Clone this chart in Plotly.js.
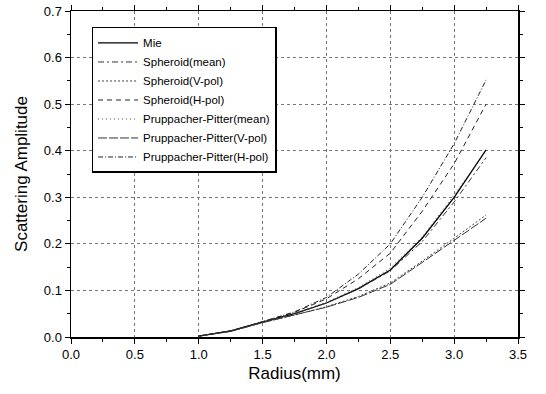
<!DOCTYPE html>
<html>
<head>
<meta charset="utf-8">
<script src="https://cdn.plot.ly/plotly-3.0.1.min.js"></script>
<style>html,body{margin:0;padding:0;background:#fff;}#chart{width:546px;height:394px;}</style>
</head>
<body>
<div id="chart"></div>
<script>
const radius = [1.0, 1.25, 1.5, 1.75, 2.0, 2.25, 2.5, 2.75, 3.0, 3.25];
const mie          = [0.002, 0.013, 0.032, 0.050, 0.073, 0.104, 0.144, 0.212, 0.300, 0.402];
const spheroidMean = [0.002, 0.013, 0.032, 0.050, 0.073, 0.103, 0.142, 0.205, 0.290, 0.385];
const spheroidV    = [0.002, 0.012, 0.031, 0.047, 0.065, 0.087, 0.116, 0.163, 0.212, 0.262];
const spheroidH    = [0.002, 0.013, 0.033, 0.053, 0.082, 0.125, 0.180, 0.270, 0.372, 0.500];
const ppMean       = [0.002, 0.013, 0.032, 0.051, 0.075, 0.106, 0.148, 0.215, 0.305, 0.400];
const ppV          = [0.002, 0.012, 0.031, 0.047, 0.064, 0.085, 0.113, 0.160, 0.207, 0.255];
const ppH          = [0.002, 0.013, 0.033, 0.054, 0.085, 0.135, 0.200, 0.300, 0.415, 0.552];
const names = ['Mie','Spheroid(mean)','Spheroid(V-pol)','Spheroid(H-pol)','Pruppacher-Pitter(mean)','Pruppacher-Pitter(V-pol)','Pruppacher-Pitter(H-pol)'];
const xTicks = [0,0.5,1,1.5,2,2.5,3,3.5];
const xTickText = ['0.0','0.5','1.0','1.5','2.0','2.5','3.0','3.5'];
const yTicks = [0,0.1,0.2,0.3,0.4,0.5,0.6,0.7];
const yTickText = ['0.0','0.1','0.2','0.3','0.4','0.5','0.6','0.7'];

const series = [mie, spheroidMean, spheroidV, spheroidH, ppMean, ppV, ppH];
const styles = [
  {color:'#000', dash:'solid', width:1.3},
  {color:'#333', dash:'6px,3px,2px,3px', width:1},
  {color:'#444', dash:'2px,2px', width:1},
  {color:'#222', dash:'5px,4px', width:1},
  {color:'#555', dash:'1px,3px', width:1},
  {color:'#333', dash:'9px,2px', width:1},
  {color:'#222', dash:'5px,2px,1px,2px', width:1}
];
const traces = series.map((ys,i)=>({
  x: radius, y: ys, type:'scatter', mode:'lines', name: names[i],
  line: styles[i]
}));

const font = {family:'Liberation Sans, Arial, sans-serif', color:'#000'};
const layout = {
  width:546, height:394,
  margin:{l:71, r:28, t:11, b:57},
  paper_bgcolor:'#fff', plot_bgcolor:'#fff',
  font: Object.assign({size:12}, font),
  showlegend:true,
  legend:{x:0.046, y:0.951, xanchor:'left', yanchor:'top',
    bordercolor:'#000', borderwidth:1.5, bgcolor:'#fff', itemwidth:40,
    font:Object.assign({size:11.5}, font), tracegroupgap:0},
  xaxis:{range:[0,3.5], tickvals:xTicks, ticktext:xTickText,
    showline:true, linecolor:'#000', linewidth:1.5, mirror:'ticks',
    ticks:'outside', ticklen:5, tickcolor:'#000', tickwidth:1,
    minor:{ticks:'outside', ticklen:3, dtick:0.25, tickcolor:'#000', showgrid:false},
    showgrid:true, gridcolor:'#777', griddash:'dot', gridwidth:1, zeroline:false,
    tickfont:Object.assign({size:13}, font),
    title:{text:'Radius(mm)', font:Object.assign({size:17}, font), standoff:6}},
  yaxis:{range:[0,0.7], tickvals:yTicks, ticktext:yTickText,
    showline:true, linecolor:'#000', linewidth:1.5, mirror:'ticks',
    ticks:'outside', ticklen:5, tickcolor:'#000', tickwidth:1,
    minor:{ticks:'outside', ticklen:3, dtick:0.05, tickcolor:'#000', showgrid:false},
    showgrid:true, gridcolor:'#777', griddash:'dot', gridwidth:1, zeroline:false,
    tickfont:Object.assign({size:13}, font),
    title:{text:'Scattering Amplitude', font:Object.assign({size:17}, font), standoff:12}}
};
Plotly.newPlot('chart', traces, layout, {displayModeBar:false, staticPlot:true});
</script>
</body>
</html>
